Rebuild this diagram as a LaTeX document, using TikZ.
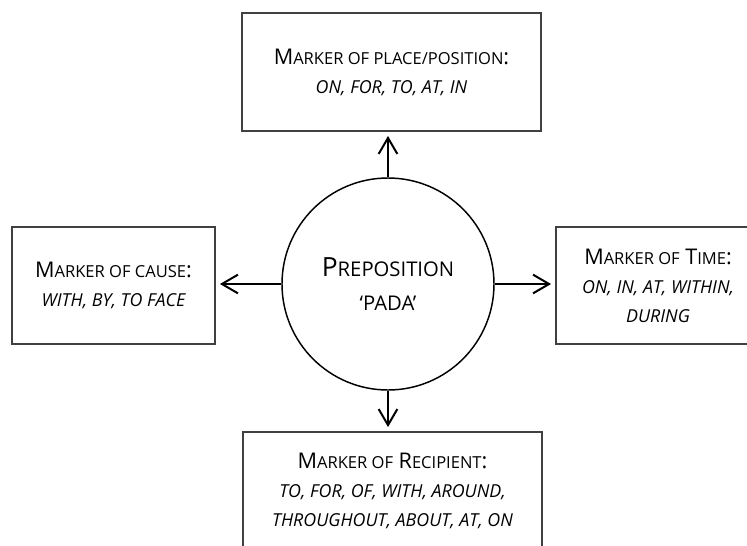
\documentclass[tikz,border=0pt]{standalone}
\usepackage{fontspec}
\setmainfont{Open Sans}
\usetikzlibrary{arrows.meta}

\newcommand{\lowcaps}[1]{{\fontsize{12.4}{14}\selectfont #1}}
\newcommand{\itcaps}[1]{{\itshape\fontsize{13.4}{14}\selectfont #1}}
\newcommand{\midcaps}[1]{{\fontsize{15.2}{17}\selectfont #1}}

\begin{document}
\begin{tikzpicture}[x=0.75pt,y=-0.75pt,
  marker/.style={draw=black!75,line width=1.4pt,align=center,inner sep=0pt,
    font=\fontsize{16.2}{21.75}\selectfont},
  link/.style={-{Straight Barb[length=12pt,width=14pt]},line width=1.5pt,shorten >=3pt}]
\fill[white] (0,0) rectangle (747,546);
\useasboundingbox (0,0) rectangle (747,546);
\clip (0,0) rectangle (747,546);

\node[draw,circle,line width=1.1pt,minimum size=159pt,align=center,
  font=\fontsize{19.8}{25.5}\selectfont] (prep) at (388,284)
  {P\midcaps{REPOSITION}\\ \midcaps{‘PADA’}};

\node[marker,minimum width=224.25pt,minimum height=88.5pt] (place) at (391.5,72)
  {M\lowcaps{ARKER OF PLACE/POSITION}:\\ \itcaps{ON, FOR, TO, AT, IN}};
\node[marker,minimum width=152.25pt,minimum height=87.75pt] (cause) at (113.5,285.5)
  {M\lowcaps{ARKER OF CAUSE}:\\ \itcaps{WITH, BY, TO FACE}};
\node[marker,minimum width=153pt,minimum height=87.75pt] (time) at (658,285.5)
  {M\lowcaps{ARKER OF} T\lowcaps{IME}:\\ \itcaps{ON, IN, AT, WITHIN,}\\ \itcaps{DURING}};
\node[marker,minimum width=224.25pt,minimum height=88.5pt] (recip) at (392.5,491)
  {M\lowcaps{ARKER OF} R\lowcaps{ECIPIENT}:\\ \itcaps{TO, FOR, OF, WITH, AROUND,}\\
   \itcaps{THROUGHOUT, ABOUT, AT, ON}};

\draw[link] (prep.north) -- (prep.north |- place.south);
\draw[link] (prep.west) -- (prep.west -| cause.east);
\draw[link] (prep.east) -- (prep.east -| time.west);
\draw[link] (prep.south) -- (prep.south |- recip.north);
\end{tikzpicture}
\end{document}
